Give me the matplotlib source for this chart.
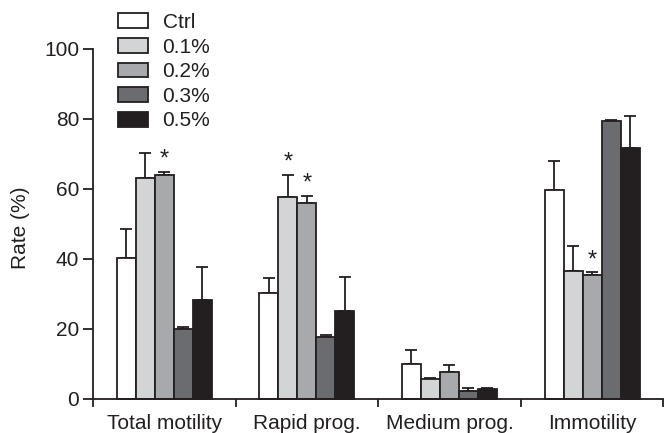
import matplotlib
matplotlib.use("Agg")
import matplotlib.pyplot as plt
import numpy as np

plt.rcParams['font.family'] = ['Liberation Sans', 'DejaVu Sans']

categories = ["Total motility", "Rapid prog.", "Medium prog.", "Immotility"]
series = ["Ctrl", "0.1%", "0.2%", "0.3%", "0.5%"]
values = {
    "Ctrl": [40.4, 30.2, 9.9, 59.7],
    "0.1%": [63.2, 57.6, 5.7, 36.7],
    "0.2%": [64.1, 56.1, 7.6, 35.5],
    "0.3%": [20.0, 17.6, 2.3, 79.3],
    "0.5%": [28.2, 25.2, 3.0, 71.7],
}
errors = {
    "Ctrl": [8.3, 4.3, 4.1, 8.4],
    "0.1%": [7.0, 6.5, 0.2, 7.0],
    "0.2%": [0.9, 2.0, 2.0, 0.7],
    "0.3%": [0.7, 0.6, 0.8, 0.4],
    "0.5%": [9.6, 9.7, 0.2, 9.3],
}
significant = {"0.2%": [0, 1, 3], "0.1%": [1]}
colors = ["#ffffff", "#d3d4d6", "#a8a9ad", "#6b6c70", "#231f20"]

fig = plt.figure(figsize=(6.7, 4.33), dpi=100)
# y from -2 to 100: 0 at pixel 399, 100 at pixel 49
ppu = 3.5
ax = fig.add_axes([0.139, (433 - 399 - 2 * ppu) / 433, 0.851, (350 + 2 * ppu) / 433])

edge = "#231f20"
fs = 15
w = 0.1333
x = np.arange(len(categories)) + 0.5
for i, s in enumerate(series):
    xs = x + (i - 2) * w
    v = np.array(values[s])
    e = np.array(errors[s])
    ax.bar(xs, v, width=w, color=colors[i], edgecolor=edge, linewidth=1.3, label=s, zorder=2)
    ax.errorbar(xs, v, yerr=[np.zeros_like(e), e], fmt='none', ecolor=edge,
                elinewidth=1.3, capsize=4.5, capthick=1.3, zorder=1)
    for j in significant.get(s, []):
        ax.text(xs[j], v[j] + e[j] + 0.3, "*", ha='center', va='bottom', fontsize=17, color=edge)

ax.set_xlim(0, 4)
ax.set_ylim(-2, 100)
ax.spines['bottom'].set_position(('data', 0))
ax.set_yticks([0, 20, 40, 60, 80, 100])
ax.set_xticks(x)
ax.set_xticklabels(categories)
ax.set_xticks([1, 2, 3, 4], minor=True)
ax.tick_params(axis='x', which='major', length=0, labelsize=fs, pad=11, colors=edge)
ax.tick_params(axis='x', which='minor', length=6, width=1.3, color=edge)
ax.tick_params(axis='y', length=7, width=1.3, labelsize=fs, pad=3, color=edge, labelcolor=edge)
ax.set_ylabel("Rate (%)", fontsize=fs, color=edge, labelpad=10)
for sp in ['top', 'right']:
    ax.spines[sp].set_visible(False)
for sp in ['left', 'bottom']:
    ax.spines[sp].set_linewidth(1.3)
    ax.spines[sp].set_color(edge)

leg = fig.legend(loc='upper left', bbox_to_anchor=(118 / 670, 1 - 13 / 433), frameon=False, fontsize=fs,
                 handlelength=1.44, handleheight=0.72, labelspacing=0.27, handletextpad=0.7,
                 borderaxespad=0, borderpad=0)
for t in leg.get_texts():
    t.set_color(edge)
fig.savefig("out.png", dpi=100)
